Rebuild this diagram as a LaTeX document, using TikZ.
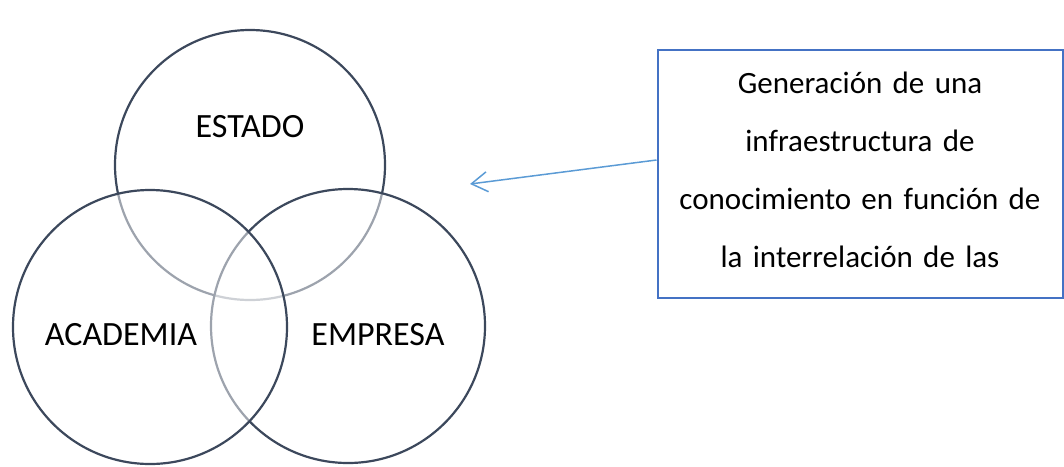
\documentclass[tikz,border=0pt]{standalone}
\usepackage{fontspec}
\setmainfont{Carlito}
\usetikzlibrary{arrows.meta}
\definecolor{ringcol}{RGB}{60,72,92}
\definecolor{boxblue}{RGB}{68,114,196}
\definecolor{arrowblue}{RGB}{91,155,213}
\tikzset{
  ring/.style={circle, draw=ringcol, line width=2.2pt, fill=white, fill opacity=0.5, draw opacity=1, text opacity=1, minimum size=274pt, inner sep=0pt},
  ringlabel/.style={font=\fontsize{34}{40}\selectfont, text=black, inner sep=0pt},
  notebox/.style={draw=boxblue, line width=2pt, fill=white, minimum width=405pt, minimum height=248pt, inner sep=0pt, text width=400pt, align=center, font=\fontsize{31}{58}\selectfont},
  pointer/.style={draw=arrowblue, line width=1.5pt, -{Straight Barb[length=16pt,width=20pt,line width=1.5pt]}}
}
\begin{document}
\begin{tikzpicture}[x=1pt,y=-1pt]
\useasboundingbox (0,0) rectangle (1064,466);
\node[ring, minimum size=270pt] (estado) at (250,165) {};
\node[ring] (empresa) at (348,326) {};
\node[ring] (academia) at (150,327) {};
\node[ringlabel] (lestado) at (250,127) {ESTADO};
\node[ringlabel] (lacademia) at (121,335) {ACADEMIA};
\node[ringlabel] (lempresa) at (378,335) {EMPRESA};
\node[notebox] (box) at (860,174) {};
\node[font=\fontsize{31}{58}\selectfont, text width=400pt, align=center, inner sep=0pt] (boxtext) at (860,170) {Generación de una\\infraestructura de\\conocimiento en función de\\la interrelación de las};
\coordinate (tip) at (470,184);
\draw[pointer] ([yshift=14pt]box.west) -- (tip);
\end{tikzpicture}
\end{document}
